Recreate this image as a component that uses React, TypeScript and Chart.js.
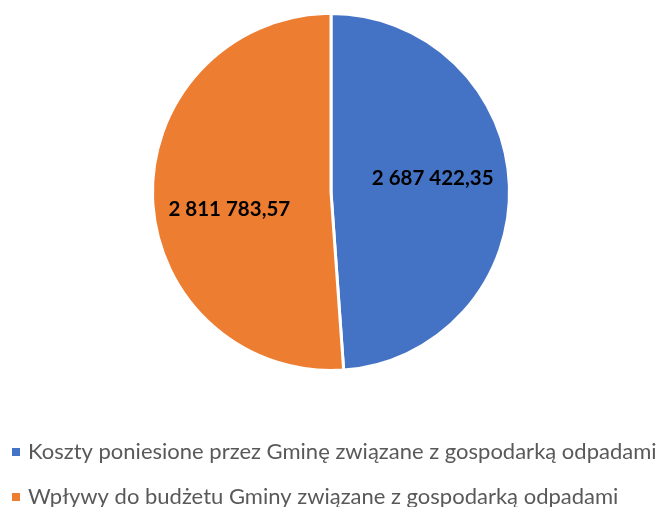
import React, { useEffect, useRef } from "react";
import { Chart, registerables } from "chart.js";

Chart.register(...registerables);

const categories = [
  "Koszty poniesione przez Gminę związane z gospodarką odpadami",
  "Wpływy do budżetu Gminy związane z gospodarką odpadami",
];
const values = [2687422.35, 2811783.57];
const valueLabels = ["2 687 422,35", "2 811 783,57"];
const colors = ["#4472C4", "#ED7D31"];

const FONT = "Lato, 'Open Sans', sans-serif";
const LABEL_DIST = 0.57;
const LABEL_DY = [-10, 14];
const LEGEND_X = 12;
const LEGEND_Y0 = 452;
const LEGEND_STEP = 45;

const labelPlugin = {
  id: "valueLabels",
  afterDatasetsDraw(chart: any) {
    const ctx = chart.ctx;
    const meta = chart.getDatasetMeta(0);
    ctx.save();
    ctx.font = `bold 20.5px ${FONT}`;
    ctx.fillStyle = "#000000";
    ctx.textAlign = "center";
    ctx.textBaseline = "middle";
    meta.data.forEach((arc: any, i: number) => {
      const p = arc.getProps(["x", "y", "startAngle", "endAngle", "outerRadius"], true);
      const mid = (p.startAngle + p.endAngle) / 2;
      const d = p.outerRadius * LABEL_DIST;
      ctx.fillText(valueLabels[i], p.x + Math.cos(mid) * d, p.y + Math.sin(mid) * d + LABEL_DY[i]);
    });
    ctx.restore();
  },
};

const legendPlugin = {
  id: "customLegend",
  afterDraw(chart: any) {
    const ctx = chart.ctx;
    ctx.save();
    ctx.font = `22px ${FONT}`;
    ctx.textAlign = "left";
    ctx.textBaseline = "middle";
    categories.forEach((label, i) => {
      const y = LEGEND_Y0 + i * LEGEND_STEP;
      ctx.fillStyle = colors[i];
      ctx.fillRect(LEGEND_X, y - 4, 8, 8);
      ctx.fillStyle = "#595959";
      ctx.fillText(label, LEGEND_X + 16, y);
    });
    ctx.restore();
  },
};

export default function App() {
  const ref = useRef<HTMLCanvasElement | null>(null);
  useEffect(() => {
    if (!ref.current) return;
    const chart = new Chart(ref.current, {
      type: "pie",
      data: {
        labels: categories,
        datasets: [
          {
            data: values,
            backgroundColor: colors,
            borderColor: "#ffffff",
            borderWidth: 3,
          },
        ],
      },
      options: {
        responsive: false,
        animation: false,
        layout: { padding: { top: 12, bottom: 135, left: 0, right: 1 } },
        plugins: {
          legend: { display: false },
          tooltip: { enabled: false },
        },
      },
      plugins: [labelPlugin, legendPlugin],
    });
    return () => chart.destroy();
  }, []);
  return (
    <div style={{ position: "absolute", left: 0, top: 0, width: 663, height: 507, background: "#fff" }}>
      <canvas ref={ref} width={663} height={507} />
    </div>
  );
}
